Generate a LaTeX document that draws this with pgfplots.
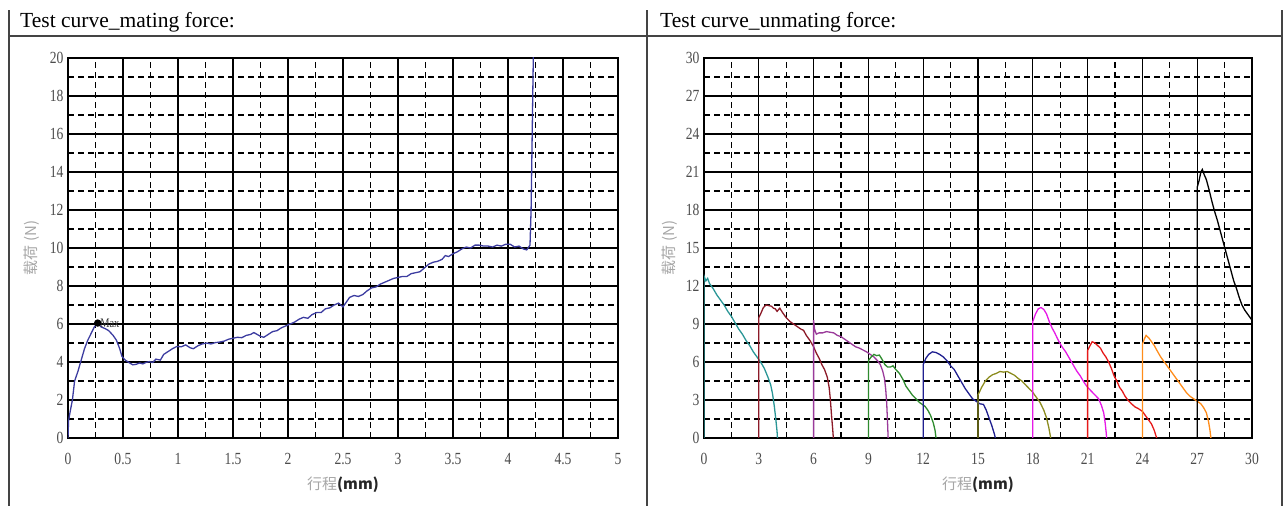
\documentclass[border=0pt]{standalone}
\usepackage{fontspec}
\setmainfont{Liberation Serif}
\newfontfamily\cjk{Noto Sans CJK SC}
\newfontfamily\tickfont[FakeStretch=0.8]{Liberation Serif}
\usepackage{pgfplots}
\pgfplotsset{compat=1.18}

\definecolor{curveA}{HTML}{3C3CA0}
\definecolor{cteal}{HTML}{2A9696}
\definecolor{cmaroon}{HTML}{8C1A28}
\definecolor{cpurple}{HTML}{9A3A9A}
\definecolor{cgreen}{HTML}{2E8B2E}
\definecolor{cnavy}{HTML}{1F1F8F}
\definecolor{colive}{HTML}{8C8C1F}
\definecolor{cmagenta}{HTML}{E619E6}
\definecolor{cred}{HTML}{E61919}
\definecolor{corange}{HTML}{FF8C1A}
\definecolor{framecol}{HTML}{444444}

\pgfplotsset{
  testbox/.style={
    scale only axis, height=380pt, anchor=south west,
    grid=both, minor x tick num=1, minor y tick num=1,
    major grid style={black, line width=1.2pt},
    minor grid style={black, line width=1.1pt, dash pattern=on 6pt off 4pt},
    axis line style={black, line width=1.4pt},
    tick pos=left, tick align=inside,
    major tick length=0pt, minor tick length=4pt, tick style={black, line width=0.8pt},
    /pgf/number format/assume math mode=true,
    ticklabel style={font=\tickfont\fontsize{17}{17}\selectfont, text=black!70},
    xticklabel style={yshift=-12pt},
    yticklabel style={xshift=-1pt},
    ylabel style={rotate=0, anchor=center, font=\cjk\fontsize{15}{15}\selectfont, text=black!35},
    xlabel style={at={(axis description cs:0.5,0)}, anchor=base, yshift=-52pt, font=\fontsize{15}{15}\selectfont},
    every axis plot/.append style={line width=1.3pt},
  },
}

\begin{document}
\begin{tikzpicture}
\useasboundingbox (0,0) rectangle (1288pt,506pt);

% table frame
\draw[framecol, line width=1.5pt] (9pt,0) -- (9pt,496pt);
\draw[framecol, line width=1.5pt] (647pt,0) -- (647pt,496pt);
\draw[framecol, line width=1.5pt] (1282pt,0) -- (1282pt,496pt);
\draw[framecol, line width=1.5pt] (9pt,470pt) -- (1282pt,470pt);
\node[anchor=base west, font=\fontsize{21.5}{22}\selectfont, inner sep=0pt] at (20pt,478pt) {Test curve\_mating force:};
\node[anchor=base west, font=\fontsize{21.5}{22}\selectfont, inner sep=0pt] at (660pt,478pt) {Test curve\_unmating force:};

% mating force
\begin{axis}[testbox, at={(68pt,68pt)}, width=550pt,
  xmin=0, xmax=5, ymin=0, ymax=20,
  xtick={0,0.5,...,5}, ytick={0,2,...,20},
  ylabel={载荷 (N)}, ylabel style={at={(axis description cs:-0.066,0.5)}},
  xlabel={{\cjk\color{black!35}行程}{\color{black!85}\cjk\bfseries (mm)}}]
\addplot[curveA] coordinates {
(0,0) (0.005,0.9) (0.02,1.4) (0.04,2.0) (0.06,3.0) (0.09,3.5) (0.12,4.1) (0.15,4.7)
(0.18,5.15) (0.21,5.5) (0.24,5.85) (0.27,6.05) (0.3,5.85) (0.34,5.75) (0.37,5.65)
(0.41,5.4) (0.44,5.15) (0.47,4.7) (0.49,4.3) (0.52,4.1) (0.56,3.95) (0.59,3.85)
(0.62,3.88) (0.65,3.95) (0.68,3.9) (0.71,3.98) (0.74,4.02) (0.77,3.98) (0.8,4.15)
(0.84,4.1) (0.87,4.4) (0.91,4.55) (0.95,4.7) (0.99,4.82) (1.03,4.8) (1.07,4.9)
(1.11,4.75) (1.14,4.7) (1.18,4.85) (1.22,4.95) (1.26,5.0) (1.3,4.95) (1.34,5.02)
(1.38,5.05) (1.42,5.1) (1.46,5.2) (1.5,5.25) (1.54,5.3) (1.58,5.28) (1.62,5.4)
(1.66,5.45) (1.69,5.55) (1.72,5.45) (1.75,5.35) (1.78,5.3) (1.82,5.45) (1.86,5.6)
(1.9,5.65) (1.94,5.8) (1.98,5.9) (2.02,6.0) (2.06,6.1) (2.1,6.25) (2.14,6.35)
(2.18,6.3) (2.22,6.5) (2.26,6.6) (2.3,6.6) (2.34,6.8) (2.38,6.85) (2.42,7.0)
(2.46,7.1) (2.5,6.9) (2.53,7.15) (2.56,7.4) (2.6,7.5) (2.64,7.45) (2.68,7.55)
(2.72,7.75) (2.76,7.9) (2.8,7.95) (2.84,8.1) (2.88,8.2) (2.92,8.3) (2.96,8.4)
(3.0,8.45) (3.04,8.5) (3.08,8.5) (3.12,8.65) (3.16,8.7) (3.2,8.75) (3.24,8.95)
(3.28,9.15) (3.32,9.25) (3.36,9.3) (3.4,9.4) (3.43,9.6) (3.46,9.55) (3.5,9.7)
(3.54,9.8) (3.58,9.95) (3.62,10.05) (3.66,10.0) (3.7,10.15) (3.74,10.15) (3.78,10.1)
(3.82,10.1) (3.86,10.05) (3.9,10.15) (3.94,10.1) (3.98,10.2) (4.02,10.2) (4.06,10.05)
(4.1,10.1) (4.14,9.95) (4.17,9.9) (4.2,10.15) (4.21,12) (4.22,16) (4.23,20) (4.24,21)
};
\addplot[only marks, mark=*, mark size=3pt, black] coordinates {(0.27,6.05)}
  node[right, font=\tickfont\fontsize{13}{13}\selectfont, text=black!80, inner sep=2pt] {Max};
\end{axis}

% unmating force
\begin{axis}[testbox, at={(704pt,68pt)}, width=548pt,
  xmin=0, xmax=30, ymin=0, ymax=30,
  xtick={0,3,...,30}, ytick={0,3,...,30},
  ylabel={载荷 (N)}, ylabel style={at={(axis description cs:-0.062,0.5)}},
  xlabel={{\cjk\color{black!35}行程}{\color{black!85}\cjk\bfseries (mm)}}]
\addplot[cteal] coordinates {(0,0) (0,12.8) (0.1,12.4) (0.2,12.6) (0.3,12.2) (0.5,11.8) (0.7,11.3)
(0.9,10.9) (1.1,10.5) (1.3,10.0) (1.5,9.6) (1.7,9.1) (1.9,8.6) (2.1,8.2) (2.3,7.7) (2.5,7.3)
(2.7,6.8) (2.9,6.4) (3.1,6.0) (3.3,5.5) (3.5,4.8) (3.65,4.2) (3.75,3.5) (3.85,2.5) (3.93,1.5)
(4.0,0.5) (4.02,0)};
\addplot[cmaroon] coordinates {(3,0) (3,9.5) (3.1,9.8) (3.25,10.3) (3.4,10.5) (3.55,10.45)
(3.7,10.4) (3.8,10.25) (3.9,10.2) (4.0,10.0) (4.15,10.25) (4.3,9.9) (4.5,9.5) (4.7,9.2)
(4.9,9.0) (5.1,8.8) (5.3,8.6) (5.45,8.5) (5.6,8.1) (5.8,7.7) (6.0,7.2) (6.15,6.7) (6.3,6.3)
(6.45,5.8) (6.6,5.4) (6.75,4.8) (6.85,4.0) (6.92,3.0) (6.98,1.8) (7.04,0.8) (7.08,0)};
\addplot[cpurple] coordinates {(6,0) (6,9.3) (6.05,8.6) (6.15,8.2) (6.3,8.3) (6.5,8.3) (6.7,8.4)
(6.9,8.35) (7.1,8.3) (7.3,8.1) (7.5,8.0) (7.7,7.8) (7.9,7.6) (8.1,7.4) (8.3,7.2) (8.5,7.1)
(8.7,6.95) (8.9,6.8) (9.1,6.6) (9.3,6.4) (9.5,6.1) (9.65,5.8) (9.78,5.3) (9.88,4.7) (9.95,3.8)
(10.0,2.8) (10.04,1.5) (10.07,0.4) (10.08,0)};
\addplot[cgreen] coordinates {(9,0) (9,6.1) (9.15,6.4) (9.3,6.6) (9.45,6.5) (9.6,6.55) (9.75,6.2)
(9.9,5.8) (10.05,5.6) (10.2,5.6) (10.35,5.7) (10.5,5.4) (10.7,5.1) (10.9,4.6) (11.05,4.1)
(11.2,3.8) (11.4,3.4) (11.6,3.1) (11.8,2.8) (11.95,2.65) (12.1,2.5) (12.25,2.2) (12.4,1.8)
(12.55,1.2) (12.65,0.6) (12.7,0)};
\addplot[cnavy] coordinates {(12,0) (12,5.8) (12.15,6.3) (12.3,6.6) (12.5,6.8) (12.7,6.75)
(12.9,6.6) (13.1,6.4) (13.3,6.1) (13.5,5.7) (13.7,5.4) (13.9,4.9) (14.1,4.4) (14.3,3.9)
(14.5,3.5) (14.7,3.1) (14.9,2.9) (15.1,2.7) (15.3,2.65) (15.45,2.2) (15.6,1.6) (15.75,1.0)
(15.9,0.3) (15.95,0)};
\addplot[colive] coordinates {(15,0) (15,3.4) (15.2,4.0) (15.4,4.5) (15.6,4.8) (15.8,5.0)
(16.0,5.1) (16.2,5.25) (16.4,5.2) (16.6,5.25) (16.8,5.1) (17.0,4.95) (17.2,4.7) (17.4,4.5)
(17.6,4.2) (17.8,3.9) (18.0,3.6) (18.2,3.2) (18.4,2.8) (18.6,2.2) (18.75,1.6) (18.88,0.8)
(18.98,0)};
\addplot[cmagenta] coordinates {(18,0) (18,9.2) (18.15,9.8) (18.3,10.2) (18.45,10.3) (18.6,10.15)
(18.75,9.8) (18.9,9.2) (19.05,8.7) (19.2,8.3) (19.4,7.7) (19.6,7.2) (19.8,6.8) (20.0,6.3)
(20.2,5.8) (20.4,5.3) (20.6,4.9) (20.8,4.4) (21.0,4.0) (21.2,3.7) (21.4,3.4) (21.6,3.1)
(21.75,2.6) (21.88,2.0) (21.96,1.2) (22.02,0.4) (22.04,0)};
\addplot[cred] coordinates {(21,0) (21,6.9) (21.1,7.2) (21.25,7.6) (21.4,7.5) (21.55,7.3)
(21.7,7.1) (21.85,6.7) (22.0,6.4) (22.15,6.0) (22.3,5.5) (22.45,4.9) (22.6,4.5) (22.75,4.0)
(22.9,3.7) (23.05,3.3) (23.2,3.0) (23.4,2.7) (23.6,2.45) (23.8,2.3) (24.0,2.1) (24.15,1.8)
(24.3,1.5) (24.5,1.1) (24.65,0.6) (24.78,0)};
\addplot[corange] coordinates {(24,0) (24,7.4) (24.1,7.8) (24.2,8.1) (24.35,7.9) (24.5,7.6)
(24.65,7.3) (24.8,6.9) (25.0,6.4) (25.2,6.0) (25.4,5.6) (25.6,5.2) (25.8,4.8) (26.0,4.4)
(26.2,4.0) (26.4,3.6) (26.6,3.3) (26.8,3.1) (27.0,2.9) (27.2,2.7) (27.35,2.4) (27.5,2.0)
(27.62,1.3) (27.7,0.6) (27.75,0)};
\addplot[black] coordinates {(27,0) (27,19.8) (27.1,20.3) (27.2,21.0) (27.28,21.2) (27.38,20.8)
(27.5,20.4) (27.65,19.6) (27.8,18.7) (27.95,17.9) (28.1,17.2) (28.25,16.4) (28.4,15.6)
(28.55,14.8) (28.7,14.0) (28.85,13.2) (29.0,12.4) (29.15,11.8) (29.3,11.1) (29.45,10.5)
(29.6,10.1) (29.75,9.8) (29.9,9.5) (30,9.3)};
\end{axis}
\end{tikzpicture}
\end{document}
